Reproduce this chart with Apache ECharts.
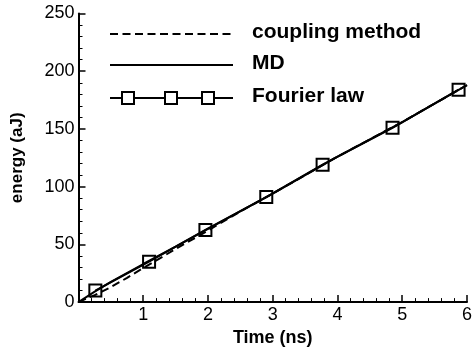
<!DOCTYPE html>
<html>
<head>
<meta charset="utf-8">
<script src="https://cdn.jsdelivr.net/npm/echarts@6/dist/echarts.min.js"></script>
<style>
  html, body { margin: 0; padding: 0; background: #fff; }
  #chart { width: 475px; height: 352px; }
</style>
</head>
<body>
<div id="chart"></div>
<script>
  // series names as shown in the legend
  var seriesNames = ['coupling method', 'MD', 'Fourier law'];

  // time (ns) / energy (aJ)
  var couplingTime = [0, 0.25, 0.5, 0.75, 1.0, 1.5, 2.0, 2.5, 3.0, 4.0, 5.0, 6.0];
  var couplingEnergy = [0, 6, 13, 21, 29.5, 46, 62, 78.5, 94, 126, 156, 188];

  var mdTime = [0, 0.25, 0.5, 1.0, 1.5, 2.0, 3.0, 4.0, 5.0, 6.0];
  var mdEnergy = [0, 9, 17.5, 33, 48, 63.5, 94, 126, 156, 188];

  var fourierTime = [0.26, 1.09, 1.96, 2.90, 3.77, 4.85, 5.87];
  var fourierEnergy = [10, 35, 62.5, 91, 119, 151, 184];

  var xTicks = [1, 2, 3, 4, 5, 6];

  function pairs(xs, ys) {
    var out = [];
    for (var i = 0; i < xs.length; i++) out.push([xs[i], ys[i]]);
    return out;
  }

  var chart = echarts.init(document.getElementById('chart'));
  var font = 'Liberation Sans, Arial, Helvetica, sans-serif';

  var axisCommon = {
    axisLine: { show: true, onZero: false, lineStyle: { color: '#000', width: 2 } },
    axisTick: { show: true, inside: true, length: 7, lineStyle: { color: '#000', width: 1.5 } },
    minorTick: { show: true, splitNumber: 5, length: 4, lineStyle: { color: '#000', width: 1 } },
    splitLine: { show: false },
    minorSplitLine: { show: false }
  };

  // legend drawn by hand, three markers on the Fourier sample like the original
  var legendY = [34, 65, 98];
  var graphics = [
    { type: 'line', shape: { x1: 110, y1: legendY[0], x2: 233, y2: legendY[0] },
      style: { stroke: '#000', lineWidth: 2, lineDash: [8, 4.5] } },
    { type: 'line', shape: { x1: 110, y1: legendY[1], x2: 233, y2: legendY[1] },
      style: { stroke: '#000', lineWidth: 2 } },
    { type: 'line', shape: { x1: 110, y1: legendY[2], x2: 233, y2: legendY[2] },
      style: { stroke: '#000', lineWidth: 2 } }
  ];
  [128, 171, 208].forEach(function (cx) {
    graphics.push({ type: 'rect', shape: { x: cx - 6, y: legendY[2] - 6, width: 12, height: 12 },
      style: { fill: '#fff', stroke: '#000', lineWidth: 2 } });
  });
  seriesNames.forEach(function (n, i) {
    graphics.push({ type: 'text', left: 252, top: legendY[i] - 12,
      style: { text: n, font: 'bold 21px ' + font, fill: '#000' } });
  });

  var option = {
    backgroundColor: '#fff',
    animation: false,
    grid: { left: 78.5, right: 3.5, top: 13.5, bottom: 47, containLabel: false },
    xAxis: Object.assign({
      type: 'value',
      min: 0, max: 6, interval: 1,
      name: 'Time (ns)',
      nameLocation: 'middle',
      nameGap: 23,
      nameTextStyle: { color: '#000', fontFamily: font, fontWeight: 'bold', fontSize: 18 },
      axisLabel: {
        color: '#000', fontFamily: font, fontSize: 18, margin: 4,
        formatter: function (v) { return xTicks.indexOf(v) >= 0 ? String(v) : ''; }
      }
    }, axisCommon),
    yAxis: Object.assign({
      type: 'value',
      min: 0, max: 250, interval: 50,
      name: 'energy (aJ)',
      nameLocation: 'middle',
      nameGap: 53,
      nameRotate: 90,
      nameTextStyle: { color: '#000', fontFamily: font, fontWeight: 'bold', fontSize: 17 },
      axisLabel: { color: '#000', fontFamily: font, fontSize: 18, margin: 4 }
    }, axisCommon),
    graphic: graphics,
    series: [
      {
        name: seriesNames[1], type: 'line', showSymbol: false, symbol: 'none',
        lineStyle: { color: '#000', width: 2 },
        data: pairs(mdTime, mdEnergy)
      },
      {
        name: seriesNames[0], type: 'line', showSymbol: false, symbol: 'none',
        lineStyle: { color: '#000', width: 2, type: [8, 4.5] },
        data: pairs(couplingTime, couplingEnergy)
      },
      {
        name: seriesNames[2], type: 'line', symbol: 'rect', symbolSize: 12,
        lineStyle: { color: '#000', width: 2 },
        itemStyle: { color: 'rgba(0,0,0,0)', borderColor: '#000', borderWidth: 2 },
        data: pairs(fourierTime, fourierEnergy)
      }
    ]
  };
  chart.setOption(option);
</script>
</body>
</html>
